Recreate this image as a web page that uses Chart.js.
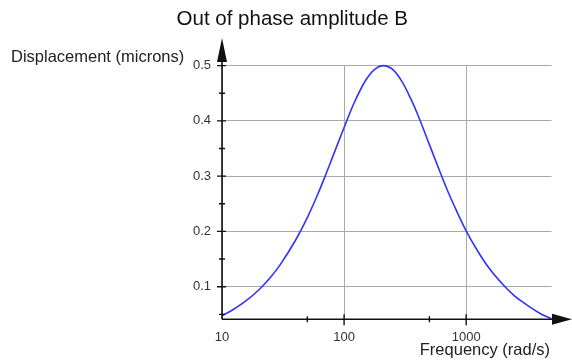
<!DOCTYPE html>
<html>
<head>
<meta charset="utf-8">
<script src="https://cdn.jsdelivr.net/npm/chart.js@4"></script>
<style>
  html, body { margin: 0; padding: 0; background: #fff; }
  #wrap { width: 572px; height: 362px; position: relative; }
</style>
</head>
<body>
<div id="wrap"><canvas id="c" width="572" height="362"></canvas></div>
<script>
// ---- data ----
const frequency = [10, 12, 15, 20, 25, 30, 40, 50, 60, 70, 80, 100, 120, 150, 180, 210,
                   250, 300, 350, 400, 500, 600, 700, 800, 1000, 1200, 1500, 2000, 2500, 3000, 4000, 5000];
const displacement = [0.0475, 0.057, 0.071, 0.094, 0.117, 0.140, 0.184, 0.225, 0.264, 0.300, 0.333, 0.388, 0.431, 0.473, 0.494, 0.500,
                      0.493, 0.470, 0.441, 0.412, 0.357, 0.312, 0.275, 0.246, 0.201, 0.170, 0.137, 0.104, 0.083, 0.070, 0.052, 0.042];
const xTicks = [10, 100, 1000];
const xMinorTicks = [50, 500];
const yTicks = [0.1, 0.2, 0.3, 0.4, 0.5];
const yMinorTicks = [0.05, 0.15, 0.25, 0.35, 0.45];
const titleText = 'Out of phase amplitude B';
const xTitle = 'Frequency (rad/s)';
const yTitle = 'Displacement (microns)';

const FONT = '"Liberation Sans", Arial, Helvetica, sans-serif';

const axesPlugin = {
  id: 'axesPlugin',
  afterDraw(chart) {
    const ctx = chart.ctx;
    const ca = chart.chartArea;
    const xs = chart.scales.x, ys = chart.scales.y;
    const x0 = ca.left, y0 = ca.bottom;
    ctx.save();
    ctx.strokeStyle = '#111';
    ctx.fillStyle = '#111';
    ctx.lineWidth = 1.6;
    // y axis
    ctx.beginPath();
    ctx.moveTo(x0, y0); ctx.lineTo(x0, 50);
    ctx.stroke();
    ctx.beginPath();
    ctx.moveTo(x0, 38); ctx.lineTo(x0 - 5, 62); ctx.lineTo(x0 + 5, 62); ctx.closePath();
    ctx.fill();
    // x axis
    ctx.beginPath();
    ctx.moveTo(x0, y0); ctx.lineTo(560, y0);
    ctx.stroke();
    ctx.beginPath();
    ctx.moveTo(572, y0); ctx.lineTo(552, y0 - 5.5); ctx.lineTo(552, y0 + 5.5); ctx.closePath();
    ctx.fill();
    // ticks
    ctx.lineWidth = 1.4;
    ctx.beginPath();
    yTicks.forEach(v => { const p = ys.getPixelForValue(v); ctx.moveTo(x0 - 5, p); ctx.lineTo(x0 + 4, p); });
    yMinorTicks.forEach(v => { const p = ys.getPixelForValue(v); ctx.moveTo(x0 - 3, p); ctx.lineTo(x0 + 3, p); });
    xTicks.forEach(v => { if (v === xs.min) return; const p = xs.getPixelForValue(v); ctx.moveTo(p, y0 - 5); ctx.lineTo(p, y0 + 6); });
    xMinorTicks.forEach(v => { const p = xs.getPixelForValue(v); ctx.moveTo(p, y0 - 3); ctx.lineTo(p, y0 + 3); });
    ctx.stroke();
    // axis titles
    ctx.fillStyle = '#222';
    ctx.font = '16.5px ' + FONT;
    ctx.textBaseline = 'alphabetic';
    ctx.textAlign = 'left';
    ctx.fillText(yTitle, 11, 62);
    ctx.textAlign = 'right';
    ctx.fillText(xTitle, 550, 355);
    ctx.restore();
  }
};

new Chart(document.getElementById('c'), {
  type: 'line',
  data: {
    datasets: [{
      data: frequency.map((f, i) => ({ x: f, y: displacement[i] })),
      borderColor: 'rgb(50,50,255)',
      borderWidth: 1.6,
      pointRadius: 0,
      fill: false,
      cubicInterpolationMode: 'monotone',
      clip: 4
    }]
  },
  options: {
    responsive: false,
    animation: false,
    devicePixelRatio: 1,
    layout: { padding: { left: 33, right: 20.5, top: 0, bottom: 0 } },
    plugins: {
      legend: { display: false },
      tooltip: { enabled: false },
      title: {
        display: true,
        text: titleText,
        color: '#111',
        font: { family: FONT, size: 20.5, weight: 'normal' },
        padding: { top: 7, bottom: 34 }
      }
    },
    scales: {
      x: {
        type: 'logarithmic',
        min: 10, max: 5000,
        afterBuildTicks: s => { s.ticks = xTicks.map(v => ({ value: v })); },
        afterFit: s => { s.height = 42.7; },
        grid: { color: '#aaa', lineWidth: 1, drawTicks: false },
        border: { display: false },
        ticks: {
          autoSkip: false, maxRotation: 0, padding: 10,
          color: '#333',
          font: { family: FONT, size: 13 },
          callback: v => String(v)
        }
      },
      y: {
        type: 'linear',
        min: 0.041, max: 0.5,
        afterBuildTicks: s => { s.ticks = yTicks.map(v => ({ value: v })); },
        afterFit: s => { s.width = 189; },
        grid: { color: '#aaa', lineWidth: 1, drawTicks: false },
        border: { display: false },
        ticks: {
          padding: 11,
          color: '#333',
          font: { family: FONT, size: 13 },
          callback: v => Number(v).toFixed(1)
        }
      }
    }
  },
  plugins: [axesPlugin]
});
</script>
</body>
</html>
